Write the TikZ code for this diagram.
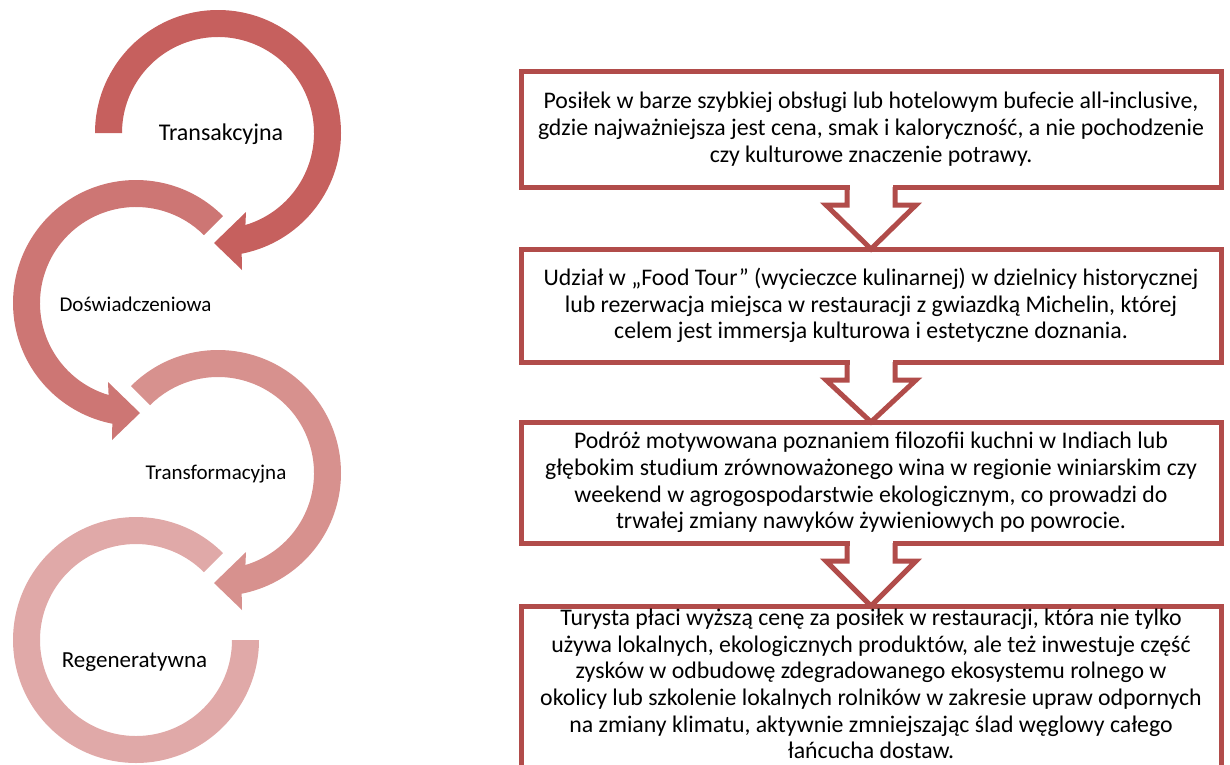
\documentclass[tikz,border=0pt]{standalone}
\usepackage{fontspec}
\setmainfont{Carlito}
\usetikzlibrary{calc}
\definecolor{cA}{HTML}{C6605E}
\definecolor{cB}{HTML}{CD7674}
\definecolor{cC}{HTML}{D7918E}
\definecolor{cD}{HTML}{E0A9A8}
\definecolor{bord}{HTML}{B14C4A}
\begin{document}
\begin{tikzpicture}[x=1pt,y=-1pt,
  box/.style={draw=bord, line width=5pt, fill=white, minimum width=700pt, outer sep=0pt, inner sep=0pt, align=center, font=\fontsize{23.8}{26.8}\selectfont},
  boxtext/.style={inner sep=0pt, align=center, font=\fontsize{23.8}{26.6}\selectfont},
  lbl/.style={anchor=base, inner sep=0pt},
  arr/.style={draw=bord, line width=5pt, line join=miter}
]
\useasboundingbox (0,0) rectangle (1230,764);
\clip (0,0) rectangle (1230,764);

% circular arrows
\fill[cA] (95,133) arc[start angle=180, end angle=438.9, radius=123] -- (242,270) -- (214,243) -- (246,212) -- ([shift={(218,133)}]73.4:96) arc[start angle=433.4, end angle=180, radius=96] -- cycle;
\fill[cB] ([shift={(136,303)}]-45:123) arc[start angle=-45, end angle=-258.9, radius=123] -- (112,440) -- (140,413) -- (108,382) -- ([shift={(136,303)}]-253.4:96) arc[start angle=-253.4, end angle=-45, radius=96] -- cycle;
\fill[cC] ([shift={(218,473)}]-135:123) arc[start angle=-135, end angle=78.9, radius=123] -- (242,610) -- (214,583) -- (246,552) -- ([shift={(218,473)}]73.4:96) arc[start angle=73.4, end angle=-135, radius=96] -- cycle;
\fill[cD] ([shift={(136,640)}]-45:123) arc[start angle=-45, end angle=-360, radius=123] -- ([shift={(136,640)}]0:96) arc[start angle=-360, end angle=-45, radius=96] -- cycle;

\node[lbl, font=\fontsize{24}{28}\selectfont] (l1) at (221,140) {Transakcyjna};
\node[lbl, font=\fontsize{21}{25}\selectfont] (l2) at (135.5,311) {Doświadczeniowa};
\node[lbl, font=\fontsize{21}{25}\selectfont] (l3) at (216,479) {Transformacyjna};
\node[lbl, font=\fontsize{23}{27}\selectfont] (l4) at (134.5,667) {Regeneratywna};

% boxes
\node[box, minimum height=116pt] (b1) at (871,129) {Posiłek w barze szybkiej obsługi lub hotelowym bufecie all-inclusive,\\ gdzie najważniejsza jest cena, smak i kaloryczność, a nie pochodzenie\\ czy kulturowe znaczenie potrawy.};
\node[box, minimum height=113pt] (b2) at (871,305.5) {Udział w „Food Tour” (wycieczce kulinarnej) w dzielnicy historycznej\\ lub rezerwacja miejsca w restauracji z gwiazdką Michelin, której\\ celem jest immersja kulturowa i estetyczne doznania.};
\node[box, minimum height=121pt] (b3) at (871,482.5) {Podróż motywowana poznaniem filozofii kuchni w Indiach lub\\ głębokim studium zrównoważonego wina w regionie winiarskim czy\\ weekend w agrogospodarstwie ekologicznym, co prowadzi do\\ trwałej zmiany nawyków żywieniowych po powrocie.};
\node[box, minimum height=180pt] (b4) at (871,696) {};
\node[boxtext] (t4) at (871,684) {Turysta płaci wyższą cenę za posiłek w restauracji, która nie tylko\\ używa lokalnych, ekologicznych produktów, ale też inwestuje część\\ zysków w odbudowę zdegradowanego ekosystemu rolnego w\\ okolicy lub szkolenie lokalnych rolników w zakresie upraw odpornych\\ na zmiany klimatu, aktywnie zmniejszając ślad węglowy całego\\ łańcucha dostaw.};

% block arrows
\foreach \u/\l in {b1/b2, b2/b3, b3/b4} {
  \fill[white] ($(\u.south)+(-21.5,-3)$) rectangle ($(\u.south)+(21.5,3)$);
  \draw[arr] ($(\u.south)+(-24,0)$) -- ++(0,18) -- ++(-21,0) -- (\l.north) -- ($(\u.south)+(45,18)$) -- ++(-21,0) -- ++(0,-18);
}
\end{tikzpicture}
\end{document}
